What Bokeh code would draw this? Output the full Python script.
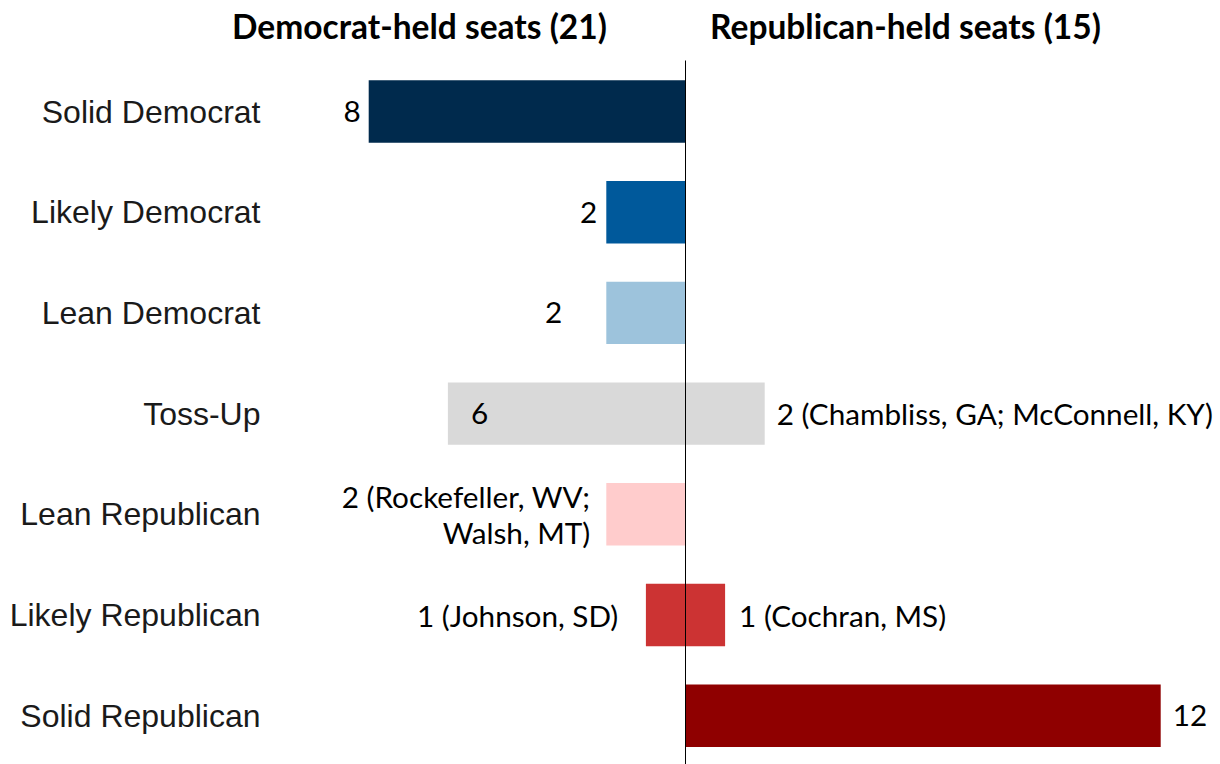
from bokeh.plotting import figure
from bokeh.models import ColumnDataSource
from bokeh.core.properties import value
from bokeh.embed import file_html
from bokeh.resources import INLINE

# ---- data ----
categories = ["Solid Democrat", "Likely Democrat", "Lean Democrat", "Toss-Up",
              "Lean Republican", "Likely Republican", "Solid Republican"]
dem_seats = [8, 2, 2, 6, 2, 1, 0]
rep_seats = [0, 0, 0, 2, 0, 1, 12]
dem_labels = ["8", "2", "2", "6", "2 (Rockefeller, WV;\nWalsh, MT)", "1  (Johnson, SD)", ""]
rep_labels = ["", "", "", "2 (Chambliss, GA; McConnell, KY)", "", "1 (Cochran, MS)", "12"]
colors = ["#002A4D", "#00599B", "#9DC3DC", "#D9D9D9", "#FFCCCC", "#CC3333", "#8F0000"]
titles = ["Democrat-held seats (21)", "Republican-held seats (15)"]

# ---- layout (styles / offsets) ----
n = len(categories)
ypos = [n - 1 - i for i in range(n)]
dem_align = ["right", "right", "right", "left", "right", "right", "right"]
dem_xoff = [-8, -9, -44, 23, -16, -20, 0]
rep_xoff = [12, 12, 12, 12, 12, 14, 12]

px_per_seat = 39.6
px_per_row = 100.7
zero_x = 685
width, height = 1220, 764
x_start = -zero_x / px_per_seat
x_end = (width - zero_x) / px_per_seat
top_row_px = 111  # centre of first row from top of canvas
y_end = (n - 1) + top_row_px / px_per_row
y_start = y_end - height / px_per_row
cat_label_x = (260 - zero_x) / px_per_seat

src = ColumnDataSource(dict(
    y=ypos, cat=categories, dem=[-d for d in dem_seats], rep=rep_seats,
    color=colors, dem_label=dem_labels, rep_label=rep_labels,
    dem_align=dem_align, dem_xoff=dem_xoff, rep_xoff=rep_xoff,
    catx=[cat_label_x] * n,
))

p = figure(width=width, height=height, output_backend="svg", toolbar_location=None,
           x_range=(x_start, x_end), y_range=(y_start, y_end),
           min_border_left=0, min_border_right=0, min_border_top=0, min_border_bottom=0)

p.hbar(y="y", left="dem", right=0, height=0.62, color="color", line_color=None, source=src)
p.hbar(y="y", left=0, right="rep", height=0.62, color="color", line_color=None, source=src)

# centre divider line, from just above first row to the bottom
p.segment(x0=[0], y0=[y_end - 60 / px_per_row], x1=[0], y1=[y_start],
          line_color="black", line_width=1)

# category labels
p.text(x="catx", y="y", text="cat", source=src, text_font=value("Liberation Sans"),
       text_font_size="32px", text_color="#1a1a1a", text_align="right",
       text_baseline="middle")

num_font = value("Lato")
p.text(x="dem", y="y", text="dem_label", source=src, text_font=num_font,
       text_font_size="29.7px", text_color="black", text_align="dem_align",
       text_baseline="middle", x_offset="dem_xoff", text_line_height=1.02)
p.text(x="rep", y="y", text="rep_label", source=src, text_font=num_font,
       text_font_size="29.7px", text_color="black", text_align="left",
       text_baseline="middle", x_offset="rep_xoff")

title_x = [(419 - zero_x) / px_per_seat, (905 - zero_x) / px_per_seat]
title_y = [y_end - 25 / px_per_row] * 2
p.text(x=title_x, y=title_y, text=titles, text_font=value("Lato"), text_font_style="bold",
       text_font_size="33.5px", text_align="center", text_baseline="middle", text_color="black")

p.xaxis.visible = False
p.yaxis.visible = False
p.xgrid.visible = False
p.ygrid.visible = False
p.outline_line_color = None

open("out.html", "w").write(file_html(p, INLINE))
